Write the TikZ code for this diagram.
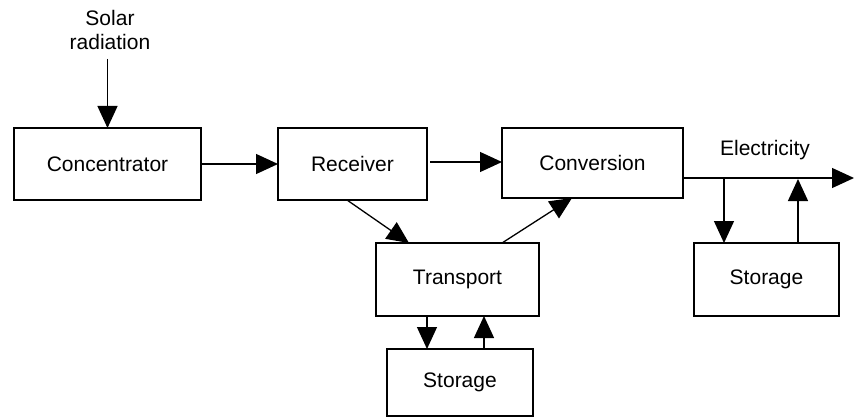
\documentclass[tikz,border=0pt]{standalone}
\usepackage{fontspec}
\setmainfont{Liberation Sans}
\usetikzlibrary{arrows.meta,calc}
\begin{document}
\begin{tikzpicture}[x=1pt,y=-1pt,
  box/.style={draw,line width=1.3pt,inner sep=0pt,outer sep=0pt,font=\fontsize{21}{24}\selectfont},
  lbl/.style={inner sep=0pt,align=center,font=\fontsize{21}{24}\selectfont},
  arr/.style={line width=1.3pt,-{Triangle[length=22pt,width=20pt]}},
  ln/.style={line width=1.3pt}]
\useasboundingbox (0,0) rectangle (854,417);
\node[box,minimum width=187pt,minimum height=72pt] (conc) at (107.5,164) {Concentrator};
\node[box,minimum width=149pt,minimum height=72pt] (recv) at (352.5,164) {Receiver};
\node[box,minimum width=181pt,minimum height=70pt] (conv) at (592.5,163) {Conversion};
\node[box,minimum width=163pt,minimum height=73pt] (trans) at (457.5,279.5) {Transport};
\node[box,minimum width=146pt,minimum height=67pt] (stb) at (460,382.5) {Storage};
\node[box,minimum width=145pt,minimum height=73pt] (str) at (766.5,279.5) {Storage};
\node[lbl] (sun) at (110,30) {Solar\\radiation};
\node[lbl] (elec) at (765,150) {Electricity};
\coordinate (eout) at (854,178);
\coordinate (j1) at (724,178);
\coordinate (j2) at (798,179);
\coordinate (rc) at (430,162);
\draw[arr] (sun.south -| conc.north) ++(0,9) -- (conc.north);
\draw[arr] (conc.east) -- (recv.west);
\draw[arr] (rc) -- (conv.west |- rc);
\draw[arr] ($(recv.south west)+(69,0)$) -- ($(trans.north west)+(33,0)$);
\draw[arr] ($(trans.north west)+(126,0)$) -- ($(conv.south west)+(70,0)$);
\draw[arr] (conv.east |- eout) -- (eout);
\draw[arr] (j1) -- (j1 |- str.north);
\draw[arr] (str.north -| j2) -- (j2);
\draw[arr] (trans.south -| 427,0) -- (stb.north -| 427,0);
\draw[arr] (stb.north -| 484,0) -- (trans.south -| 484,0);
\end{tikzpicture}
\end{document}
